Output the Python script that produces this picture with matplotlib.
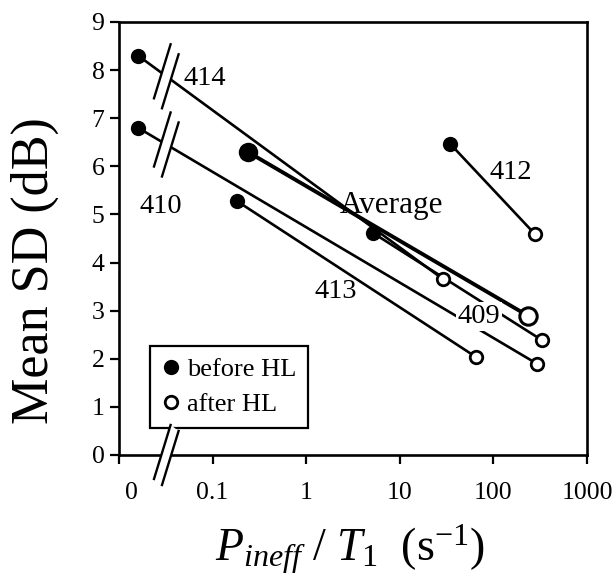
import numpy as np
import matplotlib
matplotlib.use("Agg")
import matplotlib.pyplot as plt
from matplotlib.lines import Line2D
from matplotlib.transforms import IdentityTransform

plt.rcParams['font.family'] = ['Liberation Serif', 'DejaVu Serif']
plt.rcParams['mathtext.fontset'] = 'custom'
plt.rcParams['mathtext.rm'] = 'Liberation Serif'
plt.rcParams['mathtext.it'] = 'Liberation Serif:italic'

# per-subject values (x = P_ineff / T1 in 1/s, y = mean SD in dB)
subjects = ['414', '410', '413', '409', '412']
x_before = [0, 0, 0.181, 5.21, 34.4]
sd_before = [8.30, 6.80, 5.28, 4.61, 6.47]
x_after = [29.2, 290, 64.7, 328, 278]
sd_after = [3.65, 1.90, 2.04, 2.39, 4.59]

# group average
avg_x = [0.237, 236]
avg_sd = [6.30, 2.89]

xticks = [0.01, 0.1, 1, 10, 100, 1000]
xticklabels = ['', '0.1', '1', '10', '100', '1000']
yticks = list(range(10))

ZERO_POS = 0.016   # where x = 0 is drawn on the log axis
BREAK_X = 0.032    # axis-break marks

# label placement (data coords)
label_pos = {'414': (0.083, 7.83), '410': (0.028, 5.17), '413': (2.07, 3.39),
             '409': (70, 2.87), '412': (154, 5.88)}


def xpos(v):
    return ZERO_POS if v == 0 else v


fig = plt.figure(figsize=(6.16, 5.81), dpi=100)
ax = fig.add_axes([0.1932, 0.2169, 0.7597, 0.7453])
ax.set_xscale('log')
ax.set_xlim(0.01, 1000)
ax.set_ylim(0, 9)

for name, xb, yb, xa, ya in zip(subjects, x_before, sd_before, x_after, sd_after):
    ax.plot([xpos(xb), xa], [yb, ya], color='k', lw=1.9, zorder=2)
    ax.plot(xpos(xb), yb, 'o', color='k', ms=11, mew=0, zorder=4)
    ax.plot(xa, ya, 'o', mfc='white', mec='k', ms=9, mew=2, zorder=4)

ax.plot(avg_x, avg_sd, color='k', lw=2.8, zorder=3)
ax.plot(avg_x[0], avg_sd[0], 'o', color='k', ms=14, mew=0, zorder=5)
ax.plot(avg_x[1], avg_sd[1], 'o', mfc='white', mec='k', ms=12.5, mew=2.2, zorder=5)

for name in subjects:
    lx, ly = label_pos[name]
    kw = {}
    if name == '409':
        kw['bbox'] = dict(facecolor='white', edgecolor='none', pad=1.5)
    ax.text(lx, ly, name, fontsize=20.5, ha='center', va='center', zorder=6, **kw)
ax.text(8.2, 5.19, 'Average', fontsize=22.5, ha='center', va='center', zorder=6)

ax.set_xticks(xticks)
ax.set_xticklabels(xticklabels)
ax.minorticks_off()
ax.set_yticks(yticks)
ax.tick_params(axis='both', direction='out', length=6.5, width=1.6, labelsize=18.5)
ax.tick_params(axis='x', pad=13)
ax.tick_params(axis='y', pad=4)
ax.annotate('0', xy=(0.0137, 0), xycoords=('data', 'axes fraction'),
            xytext=(0, -19.5), textcoords='offset points',
            ha='center', va='top', fontsize=18.5)
for s in ax.spines.values():
    s.set_linewidth(1.9)


def break_mark(x, y, drop):
    # two slashes with a white gap, drawn in pixels around (x, y)
    cx, cy = ax.transData.transform((x, y))
    c1 = (cx - 4, cy + drop / 2)
    c2 = (cx + 4, cy - drop / 2)
    hx, hy = 8.3, 27
    quad = [(c1[0] - hx, c1[1] - hy), (c1[0] + hx, c1[1] + hy),
            (c2[0] + hx, c2[1] + hy), (c2[0] - hx, c2[1] - hy)]
    fig.patches.append(plt.Polygon(quad, closed=True, facecolor='white',
                                   edgecolor='none', transform=IdentityTransform(),
                                   zorder=7))
    for c in (c1, c2):
        fig.lines.append(Line2D([c[0] - hx, c[0] + hx], [c[1] - hy, c[1] + hy],
                                color='k', lw=1.7, transform=IdentityTransform(),
                                zorder=8))


for xb, yb, xa, ya in zip(x_before, sd_before, x_after, sd_after):
    if xb == 0:
        t = (np.log10(BREAK_X) - np.log10(ZERO_POS)) / (np.log10(xa) - np.log10(ZERO_POS))
        break_mark(BREAK_X, yb + t * (ya - yb), 10)
break_mark(BREAK_X, 0, 6)

handles = [Line2D([], [], marker='o', color='k', ls='none', ms=11, mew=0),
           Line2D([], [], marker='o', mfc='white', mec='k', ls='none', ms=9, mew=2)]
leg = ax.legend(handles, ['before HL', 'after HL'], loc='lower left',
                bbox_to_anchor=(0.066, 0.062), fontsize=19, frameon=True,
                fancybox=False, framealpha=1, edgecolor='k', handlelength=0.7,
                handletextpad=0.25, borderpad=0.45, labelspacing=0.45,
                borderaxespad=0)
leg.get_frame().set_linewidth(1.6)

fig.text(0.0568, 0.535, 'Mean SD (dB)', rotation=90, fontsize=37.5,
         ha='center', va='center')
fig.text(0.568, 0.0344, r'$P_{ineff}\ /\ T_{\mathit{1}}\ \ (\mathrm{s}^{-1})$',
         fontsize=33, ha='center', va='baseline')

fig.savefig('out.png', dpi=100)
